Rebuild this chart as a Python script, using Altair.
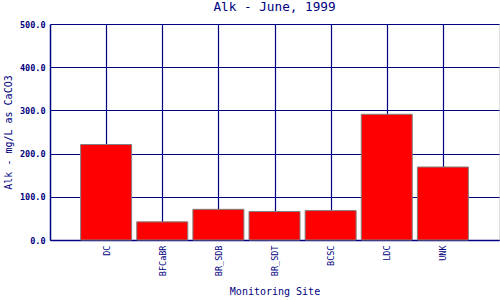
import altair as alt
import pandas as pd

sites = ["DC", "BFCaBR", "BR_SDB", "BR_SDT", "BCSC", "LDC", "UNK"]
values = [221, 42, 71, 66, 68, 291, 169]

df = pd.DataFrame({"site": sites, "value": values, "pos": list(range(1, len(sites) + 1))})

NAVY = "#000080"
FONT = "DejaVu Sans Mono"

label_expr = "[" + ",".join(f"'{s}'" for s in [""] + sites + [""]) + "][datum.value]"

chart = alt.Chart(df).mark_bar(
    size=51, color="#ff0000", stroke="#808080", strokeWidth=1
).encode(
    x=alt.X("pos:Q",
            scale=alt.Scale(domain=[0, len(sites) + 1], nice=False, zero=False, padding=0),
            axis=alt.Axis(title="Monitoring Site", values=list(range(1, len(sites) + 1)),
                          labelExpr=label_expr, labelAngle=270, labelAlign="right",
                          labelBaseline="middle", labelPadding=5, ticks=False,
                          labelFont=FONT, labelFontSize=8.5, labelColor=NAVY,
                          titleFont=FONT, titleFontSize=10, titleFontWeight="normal",
                          titleColor=NAVY, titlePadding=11,
                          domainColor=NAVY, domainWidth=1.5,
                          gridColor=NAVY, gridWidth=1.2, gridOpacity=1)),
    y=alt.Y("value:Q",
            scale=alt.Scale(domain=[0, 500], nice=False),
            axis=alt.Axis(title="Alk - mg/L as CaCO3", values=[0, 100, 200, 300, 400, 500],
                          format=".1f", ticks=False, labelPadding=5,
                          labelFont=FONT, labelFontSize=8.5, labelFontWeight="bold",
                          labelColor=NAVY,
                          titleFont=FONT, titleFontSize=10, titleFontWeight="normal",
                          titleColor=NAVY, titlePadding=6,
                          domainColor=NAVY, domainWidth=1.5,
                          gridColor=NAVY, gridWidth=1.2, gridOpacity=1)),
).properties(
    width=449, height=216,
    title=alt.TitleParams("Alk - June, 1999", font=FONT, fontSize=12.7, fontWeight="normal",
                          color=NAVY, anchor="middle", frame="group", offset=6),
    autosize=alt.AutoSizeParams(type="none"),
    padding={"left": 50, "top": 24, "right": 1, "bottom": 60},
).configure_view(stroke=NAVY, strokeWidth=1.5).configure(background="white")

chart.save("out.html", embed_options={"renderer": "svg", "actions": False})
